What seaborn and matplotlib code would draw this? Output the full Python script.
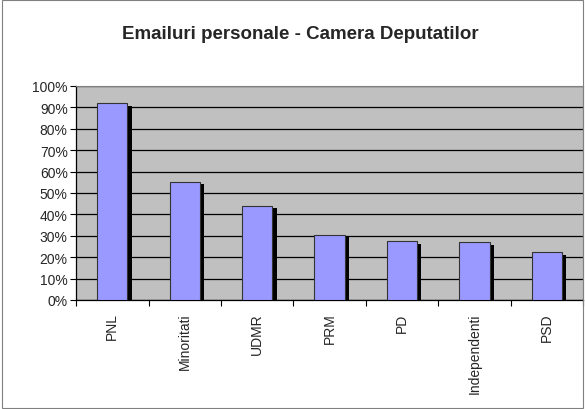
import numpy as np
import pandas as pd
import matplotlib
matplotlib.use("Agg")
import matplotlib.pyplot as plt
import matplotlib.patheffects as pe
from matplotlib.ticker import PercentFormatter, FixedLocator
from matplotlib.patches import Rectangle
import seaborn as sns

# values
parties = ["PNL", "Minoritati", "UDMR", "PRM", "PD", "Independenti", "PSD"]
share = [92, 55.3, 44.1, 30.5, 27.4, 27.0, 22.4]

sns.set_style("white")
plt.rcParams["font.family"] = ["Liberation Sans", "DejaVu Sans"]

df = pd.DataFrame({"party": parties, "share": share})

fig = plt.figure(figsize=(5.85, 4.10), dpi=100, facecolor="white")
ax = fig.add_axes([0.130, 0.266, 0.867, 0.522])

sns.barplot(data=df, x="party", y="share", color="#9999FF", saturation=1,
            width=0.42, edgecolor="#333333", linewidth=0.8, ax=ax, zorder=3)
for p in ax.patches:
    p.set_path_effects([pe.SimplePatchShadow(offset=(3, -2), shadow_rgbFace="black",
                                             alpha=1.0), pe.Normal()])

ax.set_facecolor("#C0C0C0")
ax.set_ylim(0, 100)
ax.set_xlim(-0.5, len(parties) - 0.5)
ax.set_yticks(np.arange(0, 101, 10))
ax.yaxis.set_major_formatter(PercentFormatter(decimals=0))
ax.grid(axis="y", color="black", linewidth=0.9, zorder=1)
ax.set_axisbelow(True)

ax.xaxis.set_minor_locator(FixedLocator(np.arange(-0.5, len(parties), 1.0)))
ax.tick_params(axis="x", which="major", length=0, pad=9, labelsize=10,
               labelrotation=90)
ax.tick_params(axis="x", which="minor", length=4, width=0.8, color="black",
               direction="out", bottom=True)
ax.tick_params(axis="y", length=4, width=0.8, color="black", direction="out",
               left=True, labelsize=10, pad=2)
for lbl in ax.get_xticklabels():
    lbl.set_va("top")

for side in ["top", "right"]:
    ax.spines[side].set_color("#808080")
    ax.spines[side].set_linewidth(0.8)
for side in ["left", "bottom"]:
    ax.spines[side].set_color("black")
    ax.spines[side].set_linewidth(0.9)

ax.set_xlabel("")
ax.set_ylabel("")
fig.text(0.514, 0.915, "Emailuri personale - Camera Deputatilor",
         ha="center", va="center", fontsize=13.5, fontweight="bold")

fig.patches.append(Rectangle((0.003, 0.003), 0.994, 0.994, transform=fig.transFigure,
                             fill=False, edgecolor="#808080", linewidth=0.8))

fig.savefig("out.png", dpi=100, facecolor="white")
